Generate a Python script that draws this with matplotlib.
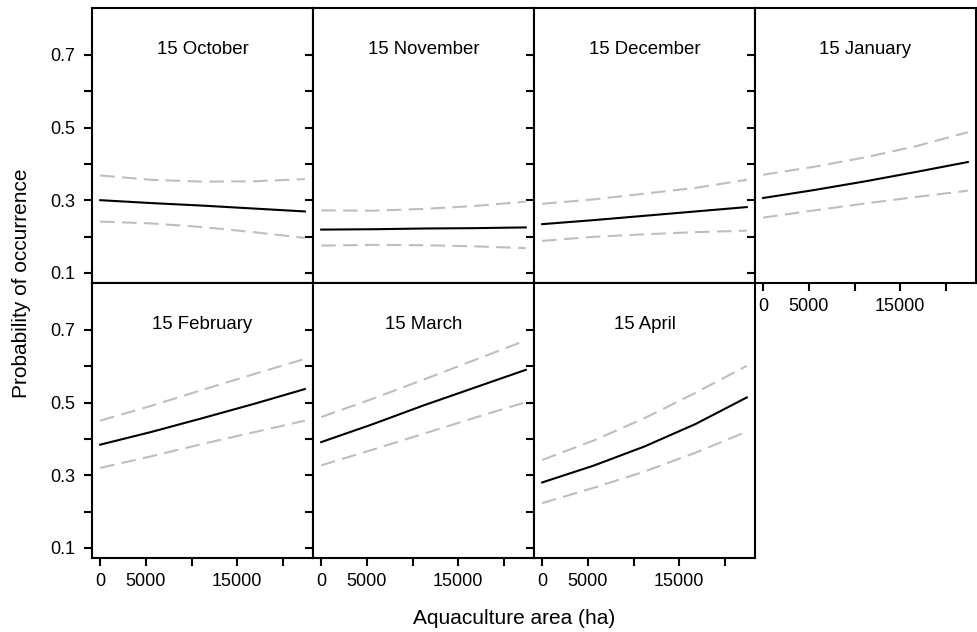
"""
Occurrence probability vs aquaculture area, one panel per date
(lattice-style small multiples)
"""

import matplotlib
matplotlib.use("Agg")
import matplotlib.pyplot as plt

plt.rcParams['font.family'] = ['Liberation Sans', 'DejaVu Sans']

# Data
area = [0, 5600, 11200, 16800, 22400]

dates = ['15 October', '15 November', '15 December', '15 January',
         '15 February', '15 March', '15 April']

fit = [
    [0.300, 0.292, 0.285, 0.277, 0.269],
    [0.219, 0.220, 0.222, 0.223, 0.225],
    [0.234, 0.245, 0.257, 0.269, 0.281],
    [0.306, 0.328, 0.352, 0.378, 0.405],
    [0.384, 0.419, 0.457, 0.496, 0.537],
    [0.391, 0.440, 0.492, 0.541, 0.590],
    [0.280, 0.326, 0.379, 0.441, 0.514],
]
upper = [
    [0.368, 0.356, 0.351, 0.352, 0.358],
    [0.272, 0.271, 0.276, 0.284, 0.296],
    [0.290, 0.302, 0.318, 0.334, 0.356],
    [0.370, 0.392, 0.418, 0.449, 0.487],
    [0.450, 0.491, 0.535, 0.578, 0.620],
    [0.460, 0.510, 0.563, 0.617, 0.671],
    [0.342, 0.395, 0.457, 0.527, 0.601],
]
lower = [
    [0.241, 0.236, 0.226, 0.212, 0.196],
    [0.175, 0.177, 0.176, 0.173, 0.168],
    [0.188, 0.199, 0.206, 0.212, 0.216],
    [0.252, 0.272, 0.291, 0.309, 0.326],
    [0.320, 0.352, 0.386, 0.418, 0.450],
    [0.327, 0.370, 0.414, 0.458, 0.501],
    [0.223, 0.265, 0.310, 0.362, 0.420],
]

x_ticks = [0, 5000, 10000, 15000, 20000]
x_ticklabels = ['0', '5000', '', '15000', '']
y_ticks = [0.1, 0.2, 0.3, 0.4, 0.5, 0.6, 0.7]
y_ticklabels = ['0.1', '', '0.3', '', '0.5', '', '0.7']

W, H = 977, 632
fig = plt.figure(figsize=(W / 100, H / 100), dpi=100)

col_left = [92, 313, 534, 755]
panel_w = 221
row_top = [8, 283]
panel_h = 275

for i, name in enumerate(dates):
    row, col = divmod(i, 4)
    left = col_left[col]
    top = row_top[row]
    ax = fig.add_axes([left / W, 1 - (top + panel_h) / H, panel_w / W, panel_h / H])

    ax.plot(area, upper[i], color='#bebebe', lw=1.5, dashes=(7, 3.5))
    ax.plot(area, lower[i], color='#bebebe', lw=1.5, dashes=(7, 3.5))
    ax.plot(area, fit[i], color='black', lw=1.5)

    ax.set_xlim(-896, 23296)
    ax.set_ylim(0.072, 0.829)

    ax.set_xticks(x_ticks)
    ax.set_yticks(y_ticks)
    if row == 1 or i == 3:
        ax.set_xticklabels(x_ticklabels)
    else:
        ax.set_xticklabels([])
    if col == 0:
        ax.set_yticklabels(y_ticklabels)
    else:
        ax.set_yticklabels([])

    ax.tick_params(direction='out', length=6, width=1.5, labelsize=13,
                   colors='black')
    ax.tick_params(axis='y', pad=6)
    ax.tick_params(axis='x', pad=5)
    for s in ax.spines.values():
        s.set_linewidth(1.5)

    ax.text(0.5, 0.85, name, transform=ax.transAxes, ha='center',
            va='center', fontsize=13.4)

fig.text(22 / W, 1 - 283 / H, 'Probability of occurrence', rotation=90,
         ha='center', va='center', fontsize=15)
fig.text(514 / W, 1 - 619 / H, 'Aquaculture area (ha)', ha='center',
         va='center', fontsize=15)

fig.savefig('out.png', dpi=100)
